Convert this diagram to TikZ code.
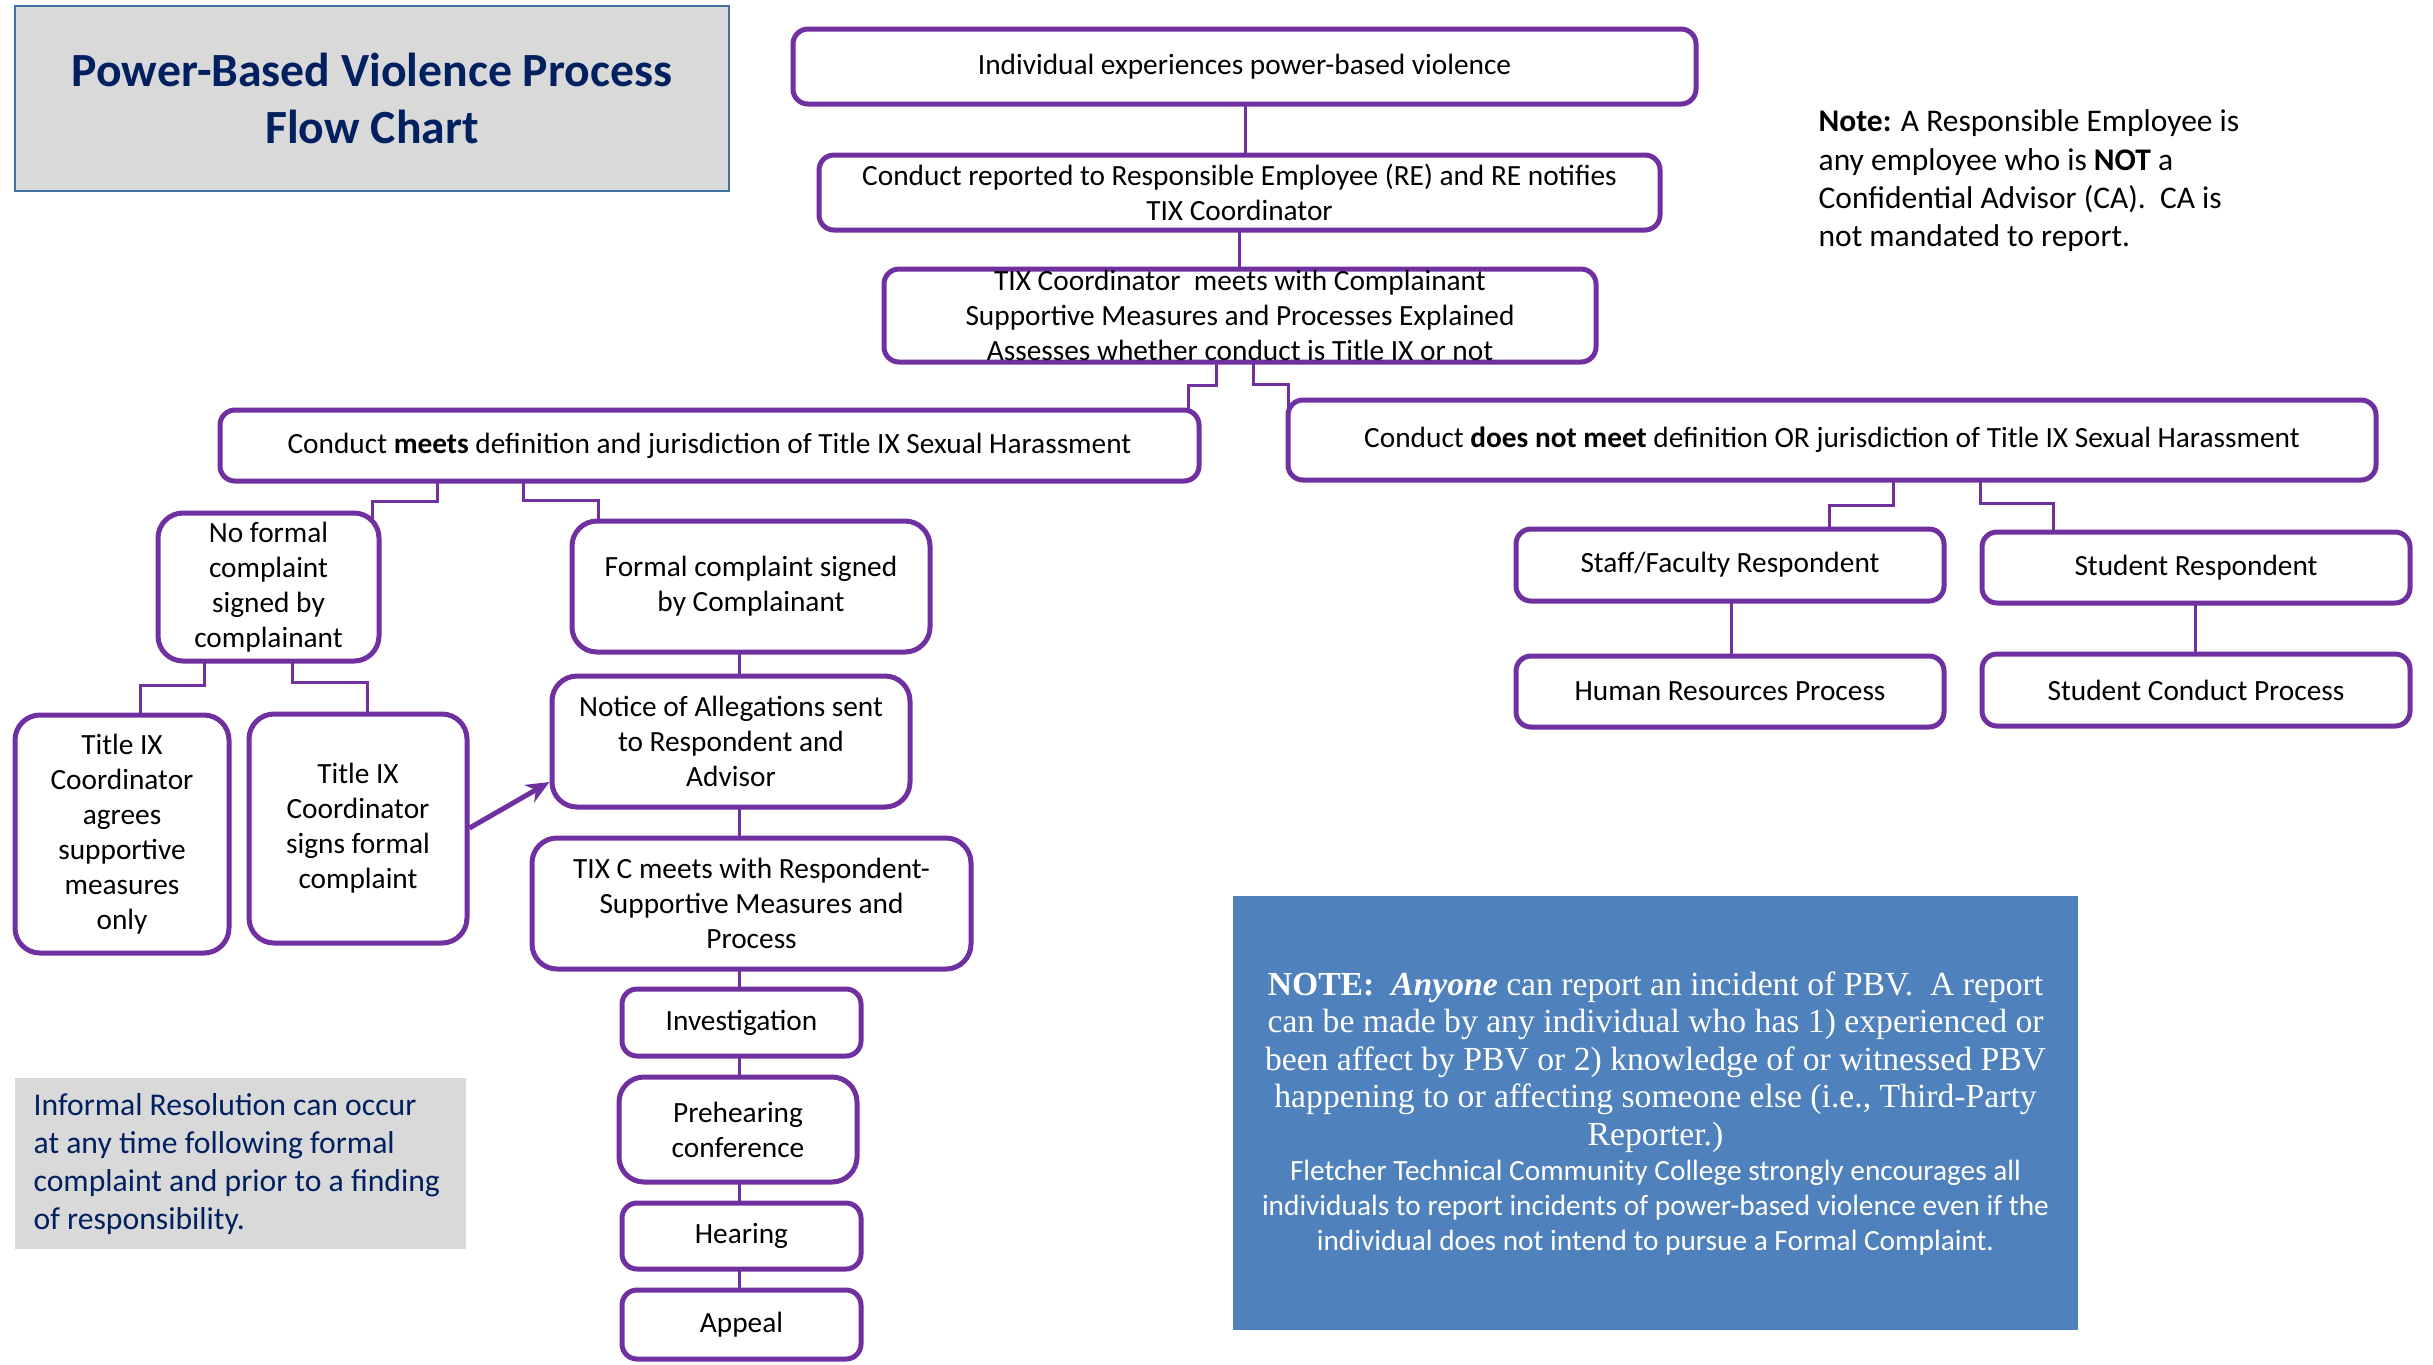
\documentclass[tikz,border=0pt]{standalone}
\usepackage{fontspec}
\setmainfont{Carlito}
\newfontfamily\serifnote{Liberation Serif}
\usetikzlibrary{arrows.meta,backgrounds}
\definecolor{pur}{HTML}{7030A0}
\definecolor{navy}{HTML}{002060}
\definecolor{ttlborder}{HTML}{41719C}
\definecolor{lgray}{HTML}{D9D9D9}
\definecolor{nblue}{HTML}{4F81BD}
\tikzset{
  box/.style={draw=pur, line width=1.5pt, rounded corners=4.5pt, fill=white, align=center,
    inner sep=0pt, font=\fontsize{8.8}{10.5}\selectfont},
  bigbox/.style={box, rounded corners=7.5pt},
  titlebox/.style={fill=lgray, draw=ttlborder, line width=0.6pt, text=navy, align=center,
    inner sep=0pt, font=\bfseries\fontsize{14.3}{17.1}\selectfont},
  infobox/.style={fill=lgray, draw=none, inner sep=0pt},
  infotext/.style={text=navy, align=left, inner sep=0pt, font=\fontsize{9.5}{11.4}\selectfont},
  notetext/.style={text=black, align=left, inner sep=0pt, font=\fontsize{9.45}{11.5}\selectfont},
  bluebox/.style={fill=nblue, draw=none, text=white, align=flush center, inner sep=0pt, text width=250pt},
  conn/.style={draw=pur, line width=0.9pt},
  arr/.style={draw=pur, line width=1.5pt, -{Stealth[length=7pt,width=6pt]}},
}
\newcommand\placebox[7][box]{\node[#1, minimum width={(#5-#3-4)*0.3pt}, minimum height={(#6-#4-4)*0.3pt}] (#2) at ({(#3+#5)/2},{(#4+#6)/2}) {#7};}
\begin{document}
\begin{tikzpicture}[x=0.3pt,y=-0.3pt]
\useasboundingbox (0,0) rectangle (2433,1364);
% title and side notes
\placebox[titlebox]{title}{13}{4}{731}{193}{Power-Based Violence Process\\Flow Chart}
\node[notetext, anchor=west] (note) at (1818,181) {\textbf{Note:} A Responsible Employee is\\any employee who is \textbf{NOT} a\\Confidential Advisor (CA).\ \ CA is\\not mandated to report.};
\placebox[infobox]{informal}{13}{1076}{468}{1251}{}
\node[infotext, anchor=west] (informaltext) at (33,1164) {Informal Resolution can occur\\at any time following formal\\complaint and prior to a finding\\of responsibility.};
\placebox[bluebox]{pbv}{1231}{894}{2080}{1332}{{\serifnote\fontsize{10.1}{11.25}\selectfont \textbf{NOTE:}\ \ \textbf{\textit{Anyone}} can report an incident of PBV.\ \ A report\\can be made by any individual who has 1) experienced or\\been affect by PBV or 2) knowledge of or witnessed PBV\\happening to or affecting someone else (i.e., Third-Party\\Reporter.)\par}{\fontsize{8.8}{10.5}\selectfont Fletcher Technical Community College strongly encourages all\\individuals to report incidents of power-based violence even if the\\individual does not intend to pursue a Formal Complaint.\par}}
% main flow
\placebox{top}{791}{27}{1698}{106}{Individual experiences power-based violence}
\placebox{rep}{817}{153}{1662}{232}{Conduct reported to Responsible Employee (RE) and RE notifies\\TIX Coordinator}
\placebox{meetc}{882}{267}{1598}{364}{TIX Coordinator\ \ meets with Complainant\\Supportive Measures and Processes Explained\\Assesses whether conduct is Title IX or not}
\placebox{meets}{218}{408}{1201}{483}{Conduct \textbf{meets} definition and jurisdiction of Title IX Sexual Harassment}
\placebox{notmeet}{1286}{398}{2378}{482}{Conduct \textbf{does not meet} definition OR jurisdiction of Title IX Sexual Harassment}
\placebox[bigbox]{noformal}{156}{511}{381}{663}{No formal\\complaint\\signed by\\complainant}
\placebox[bigbox]{formal}{570}{519}{932}{654}{Formal complaint signed\\by Complainant}
\placebox[bigbox]{agrees}{13}{713}{231}{955}{Title IX\\Coordinator\\agrees\\supportive\\measures\\only}
\placebox[bigbox]{signs}{247}{712}{469}{945}{Title IX\\Coordinator\\signs formal\\complaint}
\placebox[bigbox]{notice}{550}{674}{912}{809}{Notice of Allegations sent\\to Respondent and\\Advisor}
\placebox[bigbox]{tixc}{530}{836}{973}{971}{TIX C meets with Respondent-\\Supportive Measures and\\Process}
\placebox{inv}{620}{987}{863}{1058}{Investigation}
\placebox[bigbox]{pre}{617}{1075}{859}{1184}{Prehearing\\conference}
\placebox{hear}{620}{1201}{863}{1271}{Hearing}
\placebox{appeal}{620}{1288}{863}{1361}{Appeal}
\placebox{staff}{1514}{527}{1946}{603}{Staff/Faculty Respondent}
\placebox{student}{1980}{530}{2412}{605}{Student Respondent}
\placebox{hr}{1514}{654}{1946}{729}{Human Resources Process}
\placebox{sc}{1980}{652}{2412}{728}{Student Conduct Process}
% connector bend points
\coordinate (v1) at (1245,0);
\coordinate (v2) at (1239,0);
\coordinate (j1) at (1216,385); \coordinate (j2) at (1188,385);
\coordinate (j3) at (1253,384); \coordinate (j4) at (1288,384);
\coordinate (j5) at (437,501); \coordinate (j6) at (372,501);
\coordinate (j7) at (523,500); \coordinate (j8) at (598,500);
\coordinate (j9) at (204,685); \coordinate (j10) at (140,685);
\coordinate (j11) at (292,682); \coordinate (j12) at (367,682);
\coordinate (j13) at (1893,505); \coordinate (j14) at (1829,505);
\coordinate (j15) at (1980,503); \coordinate (j16) at (2053,503);
\coordinate (v3) at (739,0);
\coordinate (v4) at (1731,0);
\coordinate (v5) at (2195,0);
\coordinate (a1) at (0,828); \coordinate (a2) at (0,782);
\begin{scope}[on background layer]
\draw[conn] (v1 |- top.center) -- (v1 |- rep.center);
\draw[conn] (v2 |- rep.center) -- (v2 |- meetc.center);
\draw[conn] (j1 |- meetc.center) -- (j1) -- (j2) -- (j2 |- meets.center);
\draw[conn] (j3 |- meetc.center) -- (j3) -- (j4) -- (j4 |- notmeet.center);
\draw[conn] (j5 |- meets.center) -- (j5) -- (j6) -- (j6 |- noformal.center);
\draw[conn] (j7 |- meets.center) -- (j7) -- (j8) -- (j8 |- formal.center);
\draw[conn] (j9 |- noformal.center) -- (j9) -- (j10) -- (j10 |- agrees.center);
\draw[conn] (j11 |- noformal.center) -- (j11) -- (j12) -- (j12 |- signs.center);
\draw[conn] (v3 |- formal.center) -- (v3 |- notice.center);
\draw[conn] (v3 |- notice.center) -- (v3 |- tixc.center);
\draw[conn] (v3 |- tixc.center) -- (v3 |- inv.center);
\draw[conn] (v3 |- inv.center) -- (v3 |- pre.center);
\draw[conn] (v3 |- pre.center) -- (v3 |- hear.center);
\draw[conn] (v3 |- hear.center) -- (v3 |- appeal.center);
\draw[conn] (j13 |- notmeet.center) -- (j13) -- (j14) -- (j14 |- staff.center);
\draw[conn] (j15 |- notmeet.center) -- (j15) -- (j16) -- (j16 |- student.center);
\draw[conn] (v4 |- staff.center) -- (v4 |- hr.center);
\draw[conn] (v5 |- student.center) -- (v5 |- sc.center);
\end{scope}
\draw[arr] (signs.east |- a1) -- (notice.west |- a2);
\end{tikzpicture}
\end{document}
